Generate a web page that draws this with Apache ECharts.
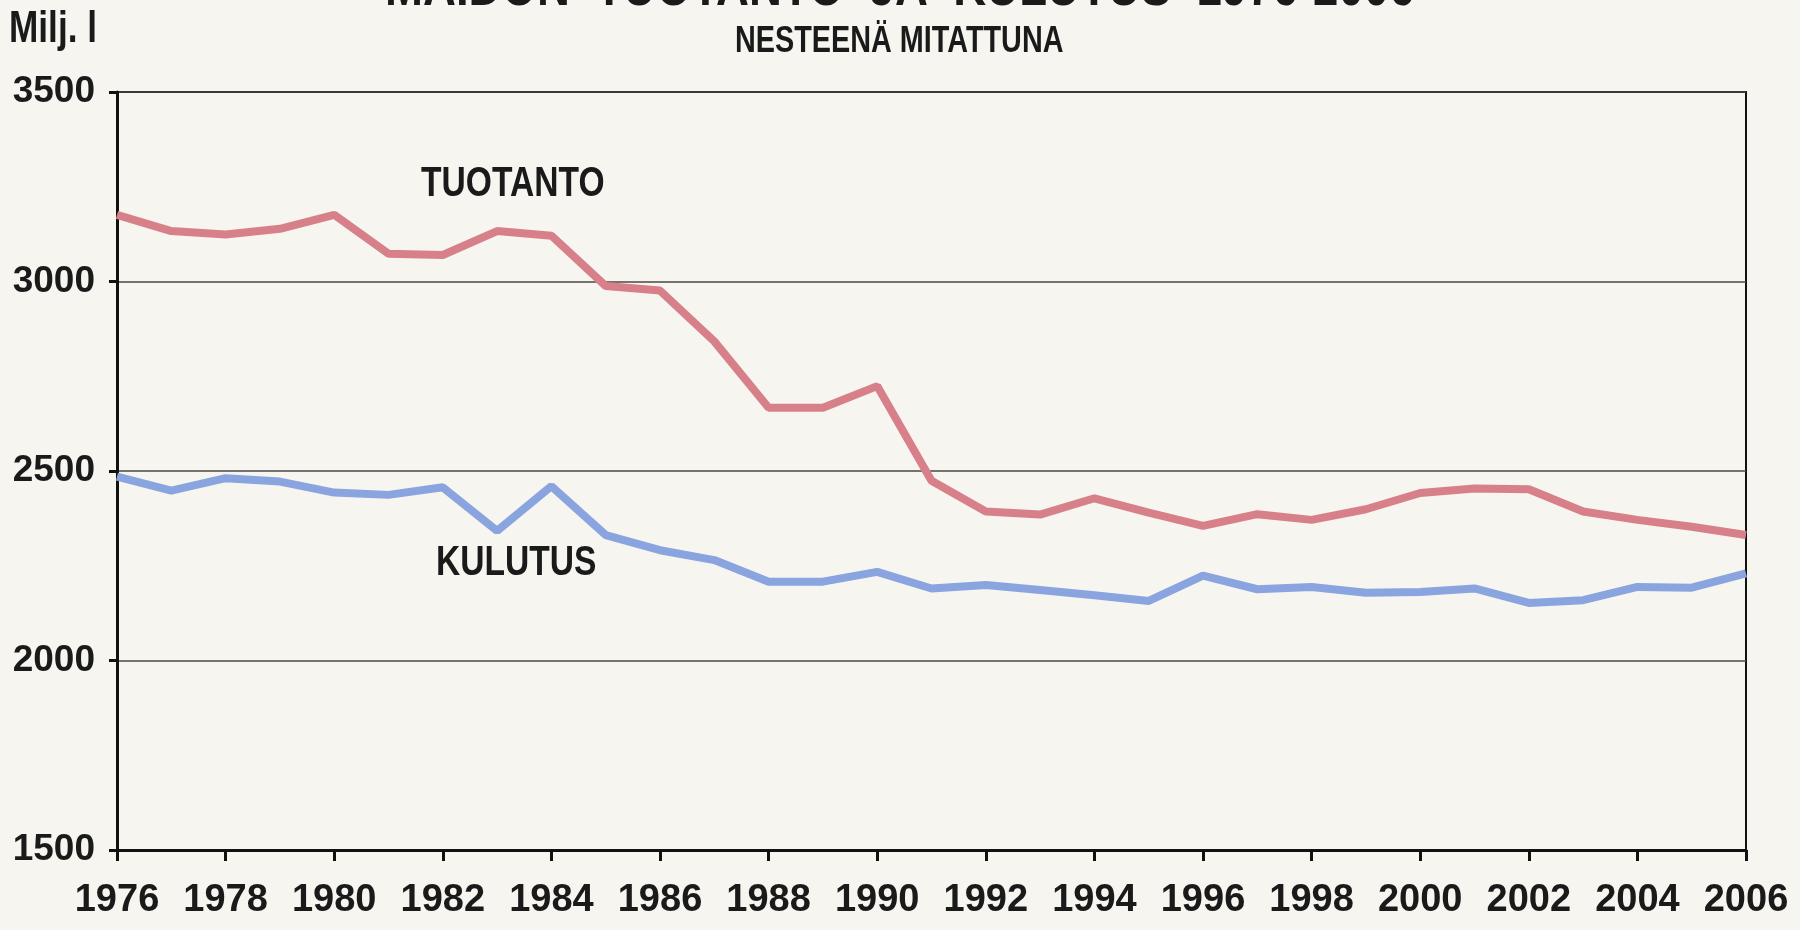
<!DOCTYPE html>
<html>
<head>
<meta charset="utf-8">
<script src="https://cdn.jsdelivr.net/npm/echarts@6/dist/echarts.min.js"></script>
<style>
    html, body { margin: 0; padding: 0; background: #f7f5f0; }
    #chart { width: 1800px; height: 930px; }
</style>
</head>
<body>
<div id="chart"></div>
<script>
// vuodet ja sarjat (milj. l)
const years = [1976, 1977, 1978, 1979, 1980, 1981, 1982, 1983, 1984, 1985, 1986, 1987, 1988, 1989, 1990,
    1991, 1992, 1993, 1994, 1995, 1996, 1997, 1998, 1999, 2000, 2001, 2002, 2003, 2004, 2005, 2006]
const tuotanto = [3176, 3133, 3124, 3139, 3176, 3073, 3070, 3133, 3121, 2988, 2976, 2842, 2667, 2667, 2724,
    2474, 2393, 2385, 2428, 2390, 2355, 2386, 2371, 2399, 2442, 2454, 2452, 2393, 2371, 2353, 2331]
const kulutus = [2485, 2448, 2481, 2472, 2443, 2437, 2457, 2342, 2460, 2331, 2291, 2265, 2208, 2208, 2234,
    2190, 2199, 2186, 2172, 2157, 2224, 2188, 2194, 2179, 2181, 2190, 2152, 2159, 2194, 2192, 2230]
const yTicks = [1500, 2000, 2500, 3000, 3500]

const FONT = "'Liberation Sans', Arial, sans-serif"

const toPairs = vals => vals.map((v, i) => [years[i], v])

// teksti kapeana (kuten alkuperäisessä)
const label = (text, x, y, size) => ({
    type: 'text', x, y, scaleX: 0.8,
    style: { text, font: 'bold ' + size + 'px ' + FONT, fill: '#1a1a1a' }
})

const chart = echarts.init(document.getElementById('chart'))
const option = {
    backgroundColor: '#f7f5f0',
    animation: false,
    grid: {
        left: 117,
        right: 54,
        top: 92,
        bottom: 80,
        show: true,
        borderColor: '#111',
        borderWidth: 2
    },
    graphic: [
        label('MAIDON  TUOTANTO  JA  KULUTUS  1976-2006', 385, -39, 57),
        label('Milj. l', 9, 8, 44),
        label('NESTEENÄ MITATTUNA', 735, 24, 36),
        label('TUOTANTO', 421, 163, 42),
        label('KULUTUS', 436, 542, 42)
    ],
    xAxis: {
        type: 'value',
        min: 1976,
        max: 2006,
        interval: 2,
        axisLine: { lineStyle: { color: '#111', width: 3 } },
        axisTick: { show: true, length: 11, lineStyle: { color: '#111', width: 3 } },
        axisLabel: {
            margin: 32,
            color: '#1a1a1a',
            fontFamily: FONT,
            fontWeight: 'bold',
            fontSize: 38,
            formatter: v => String(v)
        },
        splitLine: { show: false }
    },
    yAxis: {
        type: 'value',
        min: yTicks[0],
        max: yTicks[yTicks.length - 1],
        interval: 500,
        axisLine: { show: true, lineStyle: { color: '#111', width: 3 } },
        axisTick: { show: true, length: 8, lineStyle: { color: '#111', width: 3 } },
        axisLabel: {
            margin: 22,
            color: '#1a1a1a',
            fontFamily: FONT,
            fontWeight: 'bold',
            fontSize: 37,
            formatter: v => String(v)
        },
        splitLine: { show: true, lineStyle: { color: '#4a4644', width: 1.5 } }
    },
    series: [
        {
            name: 'TUOTANTO',
            type: 'line',
            data: toPairs(tuotanto),
            showSymbol: false,
            lineStyle: { color: '#d8808a', width: 8 }
        },
        {
            name: 'KULUTUS',
            type: 'line',
            data: toPairs(kulutus),
            showSymbol: false,
            lineStyle: { color: '#8aa4df', width: 8 }
        }
    ]
}
chart.setOption(option)
</script>
</body>
</html>
